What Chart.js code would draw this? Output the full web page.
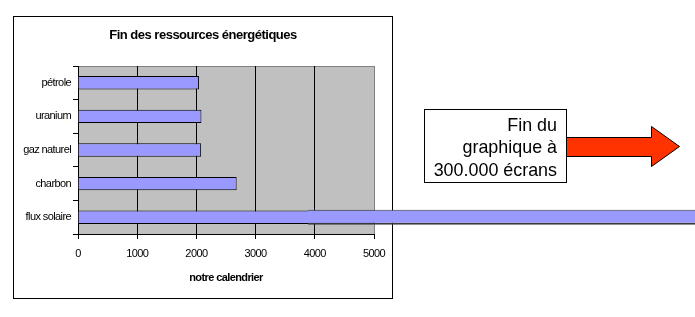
<!DOCTYPE html>
<html>
<head>
<meta charset="utf-8">
<script src="https://cdn.jsdelivr.net/npm/chart.js@4"></script>
<style>
  html, body { margin: 0; padding: 0; background: #fff; }
  canvas { display: block; }
</style>
</head>
<body>
<canvas id="graphique" width="695" height="317"></canvas>
<script>
// ===== DONNEES =====
const ressources = ["pétrole", "uranium", "gaz naturel", "charbon", "flux solaire"];
const finAnnees = [2045, 2085, 2080, 2680, 5000];
// barre "flux solaire" qui sort du graphique (jusqu'a 300.000 ecrans)
const fluxHorsCadre = [null, null, null, null, [3885, 300000]];
const ticksX = ["0", "1000", "2000", "3000", "4000", "5000"];

const titre = "Fin des ressources énergétiques";
const titreAxe = "notre calendrier";
const noteLignes = ["Fin du", "graphique à", "300.000 écrans"];

// ===== STYLE =====
const violet = "#9999ff";
const gris = "#c0c0c0";
const police = "'Liberation Sans', Arial, sans-serif";

// ===== DECOR (cadre, fond, titre, note, fleche) =====
const decor = {
    id: "decor",
    beforeUpdate(chart) {
        chart.ctx.letterSpacing = "-0.6px";
    },
    beforeDraw(chart) {
        const c = chart.ctx;
        const a = chart.chartArea;
        c.save();
        c.fillStyle = "#fff";
        c.fillRect(0, 0, chart.width, chart.height);
        // cadre du graphique
        c.strokeStyle = "#000";
        c.lineWidth = 1;
        c.strokeRect(13.5, 16.5, 379, 282);
        // zone de tracé
        c.fillStyle = gris;
        c.fillRect(a.left, a.top, a.right - a.left, a.bottom - a.top);
        c.strokeStyle = "#808080";
        c.beginPath();
        c.moveTo(a.left, a.top + 0.5);
        c.lineTo(a.right, a.top + 0.5);
        c.stroke();
        c.restore();
        c.letterSpacing = "-0.6px";
    },
    afterDraw(chart) {
        const c = chart.ctx;
        c.save();
        // titre
        c.letterSpacing = "-0.5px";
        c.fillStyle = "#000";
        c.font = "bold 13px " + police;
        c.textAlign = "center";
        c.textBaseline = "middle";
        c.fillText(titre, 203, 35);

        // fleche rouge
        c.letterSpacing = "0px";
        c.fillStyle = "#ff3300";
        c.strokeStyle = "#000";
        c.lineWidth = 1;
        c.beginPath();
        c.moveTo(566, 137.5);
        c.lineTo(651.5, 137.5);
        c.lineTo(651.5, 126.5);
        c.lineTo(679.5, 146.5);
        c.lineTo(651.5, 166.5);
        c.lineTo(651.5, 156.5);
        c.lineTo(566, 156.5);
        c.closePath();
        c.fill();
        c.stroke();

        // encadré
        c.fillStyle = "#fff";
        c.fillRect(424, 109, 142, 73);
        c.strokeRect(424.5, 109.5, 142, 73);
        c.fillStyle = "#000";
        c.font = "17.9px " + police;
        c.textAlign = "right";
        c.textBaseline = "alphabetic";
        noteLignes.forEach((l, i) => c.fillText(l, 557, 130.5 + i * 22.5));
        c.restore();
        c.letterSpacing = "-0.6px";
    }
};

// ===== GRAPHIQUE =====
const ctx = document.getElementById("graphique");
new Chart(ctx, {
    type: "bar",
    data: {
        labels: ressources,
        datasets: [{
            label: "fin",
            data: finAnnees,
            backgroundColor: violet,
            borderColor: "#000",
            borderWidth: 1,
            borderSkipped: "start",
            grouped: false,
            categoryPercentage: 1,
            barPercentage: 0.4,
            order: 1
        }, {
            label: "flux solaire",
            data: fluxHorsCadre,
            backgroundColor: violet,
            borderColor: "#3a3a3a",
            borderWidth: { top: 1, right: 0, bottom: 2, left: 0 },
            borderSkipped: false,
            grouped: false,
            categoryPercentage: 1,
            barPercentage: 0.45,
            clip: false,
            order: 0
        }]
    },
    options: {
        indexAxis: "y",
        responsive: false,
        animation: false,
        devicePixelRatio: 1,
        layout: { padding: { left: 13, top: 66, right: 321, bottom: 23 } },
        plugins: {
            legend: { display: false },
            tooltip: { enabled: false },
            title: { display: false }
        },
        scales: {
            x: {
                min: 0,
                max: 5000,
                afterFit: (s) => { s.height = 60; },
                afterBuildTicks: (s) => {
                    s.ticks = ticksX.map(t => ({ value: Number(t) }));
                },
                ticks: {
                    color: "#000",
                    font: { family: police, size: 11 },
                    padding: 8,
                    maxRotation: 0,
                    callback: (v, i) => ticksX[i]
                },
                grid: {
                    color: (g) => g.tick && g.tick.value === 5000 ? "#808080" : "#000",
                    tickColor: "#000",
                    tickLength: 5,
                    lineWidth: 1
                },
                border: { color: "#000", width: 1 },
                title: {
                    display: true,
                    text: titreAxe,
                    color: "#000",
                    font: { family: police, size: 11, weight: "bold" },
                    padding: { top: 0, bottom: 9 }
                }
            },
            y: {
                afterFit: (s) => { s.width = 65; },
                ticks: {
                    color: "#000",
                    font: { family: police, size: 11 },
                    padding: 2
                },
                grid: {
                    offset: true,
                    drawOnChartArea: false,
                    tickColor: "#000",
                    tickLength: 5
                },
                border: { color: "#000", width: 1 }
            }
        }
    },
    plugins: [decor]
});
</script>
</body>
</html>
